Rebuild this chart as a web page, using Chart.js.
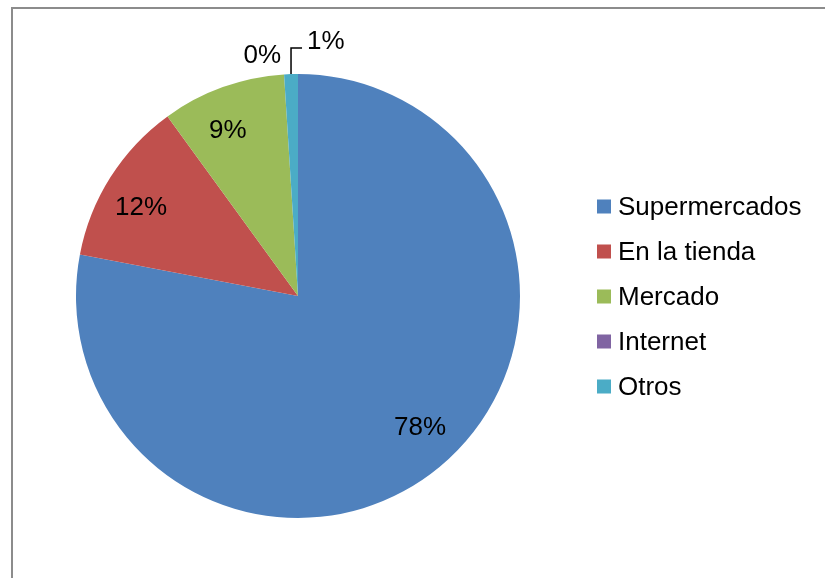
<!DOCTYPE html>
<html>
<head>
<meta charset="utf-8">
<title>Lugar de compra</title>
<script src="https://cdn.jsdelivr.net/npm/chart.js@4"></script>
<style>
  html, body { margin: 0; padding: 0; background: #ffffff; }
  #wrap { width: 825px; height: 578px; }
</style>
</head>
<body>
<div id="wrap"><canvas id="shopChart" width="825" height="578"></canvas></div>
<script>
// where people buy - share of answers
const categories = ['Supermercados', 'En la tienda', 'Mercado', 'Internet', 'Otros'];
const shares = [78, 12, 9, 0, 1];
const sliceColors = ['#4F81BD', '#C0504D', '#9BBB59', '#8064A2', '#4BACC6'];

const FONT = '26px "Liberation Sans", Arial, sans-serif';

// grey frame round the plot, open at right and bottom like a cropped box
const framePlugin = {
  id: 'frame',
  beforeDraw(chart) {
    const ctx = chart.ctx;
    ctx.save();
    ctx.strokeStyle = '#8c8c8c';
    ctx.lineWidth = 2;
    ctx.strokeRect(12, 8, chart.width + 20, chart.height + 20);
    ctx.restore();
  }
};

// percent labels: inside on the big slices, outside with a leader on the thin ones
const pctLabels = {
  id: 'pctLabels',
  afterDatasetsDraw(chart) {
    const ctx = chart.ctx;
    const arcs = chart.getDatasetMeta(0).data;
    ctx.save();
    ctx.font = FONT;
    ctx.fillStyle = '#000000';
    ctx.textBaseline = 'middle';
    arcs.forEach((arc, i) => {
      const p = arc.getProps(['x', 'y', 'startAngle', 'endAngle', 'outerRadius'], true);
      const mid = (p.startAngle + p.endAngle) / 2;
      const txt = shares[i] + '%';
      if (shares[i] >= 5) {
        // nudge toward the start of the slice a little, labels sit off the bisector
        const a = mid - 0.055;
        const d = p.outerRadius * 0.81;
        ctx.textAlign = 'center';
        ctx.fillText(txt, p.x + Math.cos(a) * d, p.y + Math.sin(a) * d);
        return;
      }
      const ax = p.x + Math.cos(mid) * p.outerRadius;
      const ay = p.y + Math.sin(mid) * p.outerRadius;
      if (shares[i] === 0) {
        ctx.textAlign = 'right';
        ctx.fillText(txt, ax - 3, ay - 19);
      } else {
        ctx.strokeStyle = '#000000';
        ctx.lineWidth = 1.5;
        ctx.beginPath();
        ctx.moveTo(ax, ay);
        ctx.lineTo(ax, ay - 26);
        ctx.lineTo(ax + 11, ay - 26);
        ctx.stroke();
        ctx.textAlign = 'left';
        ctx.fillText(txt, ax + 16, ay - 32);
      }
    });
    ctx.restore();
  }
};

// legend column on the right
const sideLegend = {
  id: 'sideLegend',
  afterDraw(chart) {
    const ctx = chart.ctx;
    const x0 = 597, y0 = 206.5, step = 45, box = 14;
    ctx.save();
    ctx.font = FONT;
    ctx.textAlign = 'left';
    ctx.textBaseline = 'middle';
    chart.data.labels.forEach((lab, i) => {
      const y = y0 + i * step;
      ctx.fillStyle = chart.data.datasets[0].backgroundColor[i];
      ctx.fillRect(x0, y - box / 2, box, box);
      ctx.fillStyle = '#000000';
      ctx.fillText(lab, x0 + 21, y + 1);
    });
    ctx.restore();
  }
};

new Chart(document.getElementById('shopChart').getContext('2d'), {
  type: 'pie',
  data: {
    labels: categories,
    datasets: [{
      data: shares,
      backgroundColor: sliceColors,
      borderWidth: 0,
      hoverOffset: 0
    }]
  },
  options: {
    responsive: false,
    animation: false,
    layout: { padding: { left: 76, right: 305, top: 74, bottom: 60 } },
    plugins: {
      legend: { display: false },
      tooltip: { enabled: false }
    }
  },
  plugins: [framePlugin, pctLabels, sideLegend]
});
</script>
</body>
</html>
